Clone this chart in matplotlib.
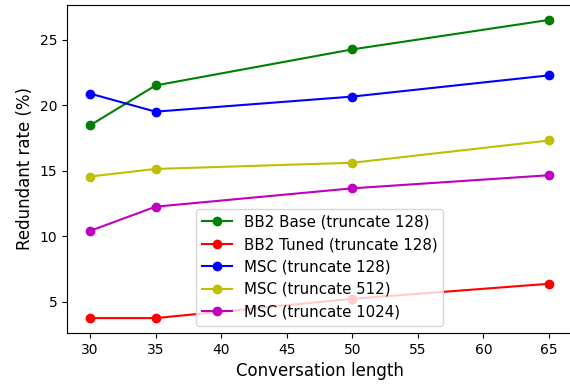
import matplotlib
matplotlib.use("Agg")
import matplotlib.pyplot as plt

conv_len = [30, 35, 50, 65]
bb2_base = [18.45, 21.5, 24.25, 26.5]
bb2_tuned = [3.75, 3.75, 5.22, 6.37]
msc_128 = [20.88, 19.5, 20.65, 22.27]
msc_512 = [14.55, 15.13, 15.6, 17.3]
msc_1024 = [10.4, 12.25, 13.65, 14.65]

series = [
    ("BB2 Base (truncate 128)", bb2_base, "g"),
    ("BB2 Tuned (truncate 128)", bb2_tuned, "r"),
    ("MSC (truncate 128)", msc_128, "b"),
    ("MSC (truncate 512)", msc_512, "y"),
    ("MSC (truncate 1024)", msc_1024, "m"),
]

fig = plt.figure(figsize=(5.7, 3.87), dpi=100)
ax = fig.add_axes([67/570, 1-333/387, 505/570, 328/387])
for label, vals, c in series:
    ax.plot(conv_len, vals, "o-", color=c, label=label)
ax.spines["right"].set_visible(False)
ax.set_xlabel("Conversation length", fontsize=12)
ax.set_ylabel("Redundant rate (%)", fontsize=12)
ax.legend(loc="lower center", fontsize=10.8)
fig.savefig("out.png", dpi=100)
